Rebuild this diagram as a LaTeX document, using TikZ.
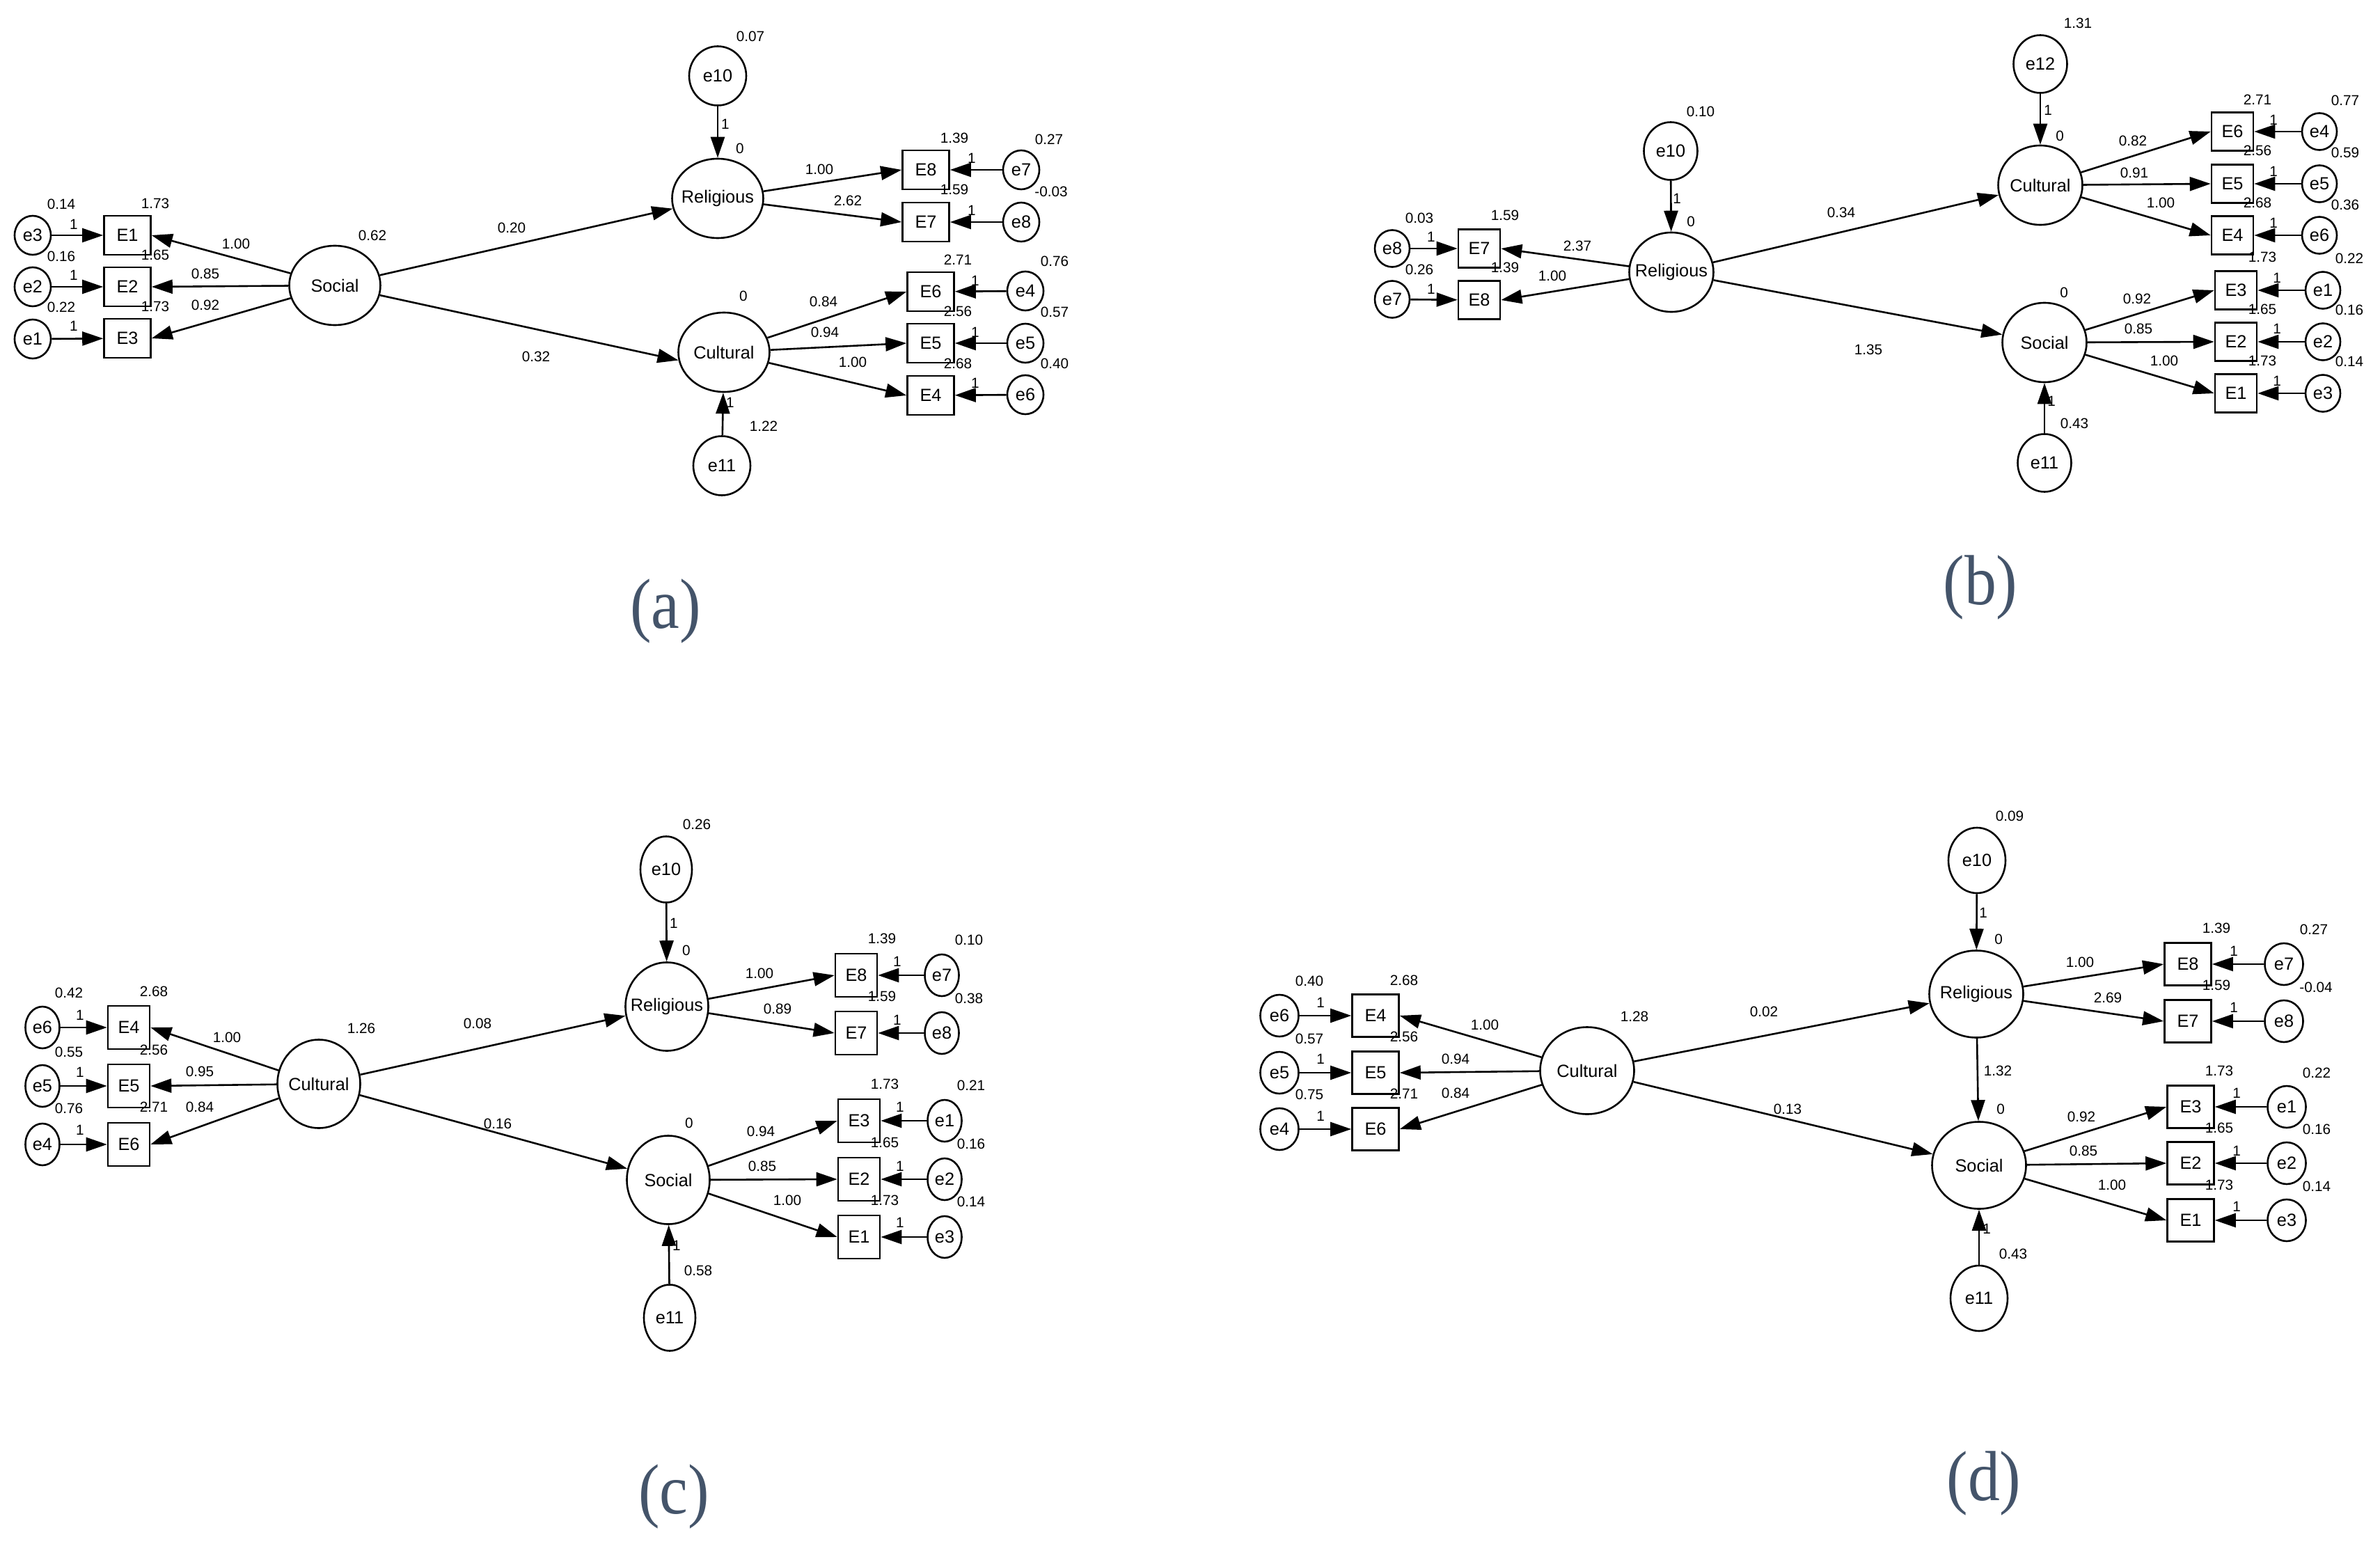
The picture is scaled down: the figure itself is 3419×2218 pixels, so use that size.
\documentclass[tikz,border=0pt]{standalone}
\usepackage{fontspec}
\setmainfont{Liberation Sans}
\newfontfamily\capfont{Liberation Serif}
\usetikzlibrary{shapes.geometric,arrows.meta}
\definecolor{capblue}{HTML}{44546A}
\tikzstyle{latent}=[ellipse,draw,line width=0.26mm,minimum width=13.1mm,minimum height=11.4mm,inner xsep=-1.5mm,inner ysep=0pt,font=\fontsize{7.2}{8}\selectfont]
\tikzstyle{errbig}=[ellipse,draw,line width=0.26mm,minimum width=8.2mm,minimum height=8.5mm,inner sep=0pt,font=\fontsize{7.2}{8}\selectfont]
\tikzstyle{err}=[ellipse,draw,line width=0.26mm,minimum width=5.2mm,minimum height=5.6mm,inner sep=0pt,font=\fontsize{7.2}{8}\selectfont]
\tikzstyle{obs}=[rectangle,draw,line width=0.26mm,minimum width=6.7mm,minimum height=5.6mm,inner sep=0pt,font=\fontsize{7.2}{8}\selectfont]
\tikzstyle{lbl}=[inner sep=0pt,font=\fontsize{5.9}{7}\selectfont]
\tikzstyle{panelcap}=[inner sep=0pt,text=capblue,font=\capfont\fontsize{29}{32}\selectfont]
\tikzstyle{arr}=[-{Triangle[length=3mm,width=2mm]},line width=0.26mm]

\begin{document}
\begin{tikzpicture}[x=0.1mm,y=-0.1mm]
    \useasboundingbox (0,0) rectangle (3419,2218);

    % (a)
    \node[err] (ae3) at (47,338) {e3};
    \node[err] (ae2) at (47,412) {e2};
    \node[err] (ae1) at (47,487) {e1};
    \node[obs] (aE1) at (183,338) {E1};
    \node[obs] (aE2) at (183,412) {E2};
    \node[obs] (aE3) at (183,486) {E3};
    \node[latent] (aSoc) at (481,410) {Social};
    \node[latent] (aRel) at (1031,285) {Religious};
    \node[latent] (aCul) at (1040,506) {Cultural};
    \node[errbig] (ae10) at (1031,109) {e10};
    \node[errbig] (ae11) at (1037,669) {e11};
    \node[obs] (aE8) at (1330,244) {E8};
    \node[obs] (aE7) at (1330,319) {E7};
    \node[err] (ae7) at (1467,244) {e7};
    \node[err] (ae8) at (1467,319) {e8};
    \node[obs] (aE6) at (1337,419) {E6};
    \node[obs] (aE5) at (1337,493) {E5};
    \node[obs] (aE4) at (1337,568) {E4};
    \node[err] (ae4) at (1473,418) {e4};
    \node[err] (ae5) at (1473,493) {e5};
    \node[err] (ae6) at (1473,567) {e6};

    \foreach \from/\to in {ae3/aE1,ae2/aE2,ae1/aE3,aSoc/aE1.east,aSoc/aE2.east,aSoc/aE3.east,
        aSoc/aRel,aSoc/aCul.190,ae10/aRel,ae11/aCul,aRel/aE8.west,aRel/aE7.west,
        aCul/aE6.west,aCul/aE5.west,aCul/aE4.west,ae7/aE8,ae8/aE7,ae4/aE6,ae5/aE5,ae6/aE4}
    \draw[arr] (\from) -- (\to);

    \foreach \x/\y/\lab [count=\i] in {88/293/0.14,106/322/1,223/292/1.73,88/368/0.16,106/395/1,223/366/1.65,
        88/441/0.22,106/468/1,223/440/1.73,339/350/1.00,295/393/0.85,295/438/0.92,535/338/0.62,
        735/327/0.20,770/512/0.32,1078/52/0.07,1042/178/1,1063/213/0,1177/243/1.00,1218/288/2.62,
        1371/198/1.39,1371/272/1.59,1396/227/1,1396/302/1,1507/200/0.27,1510/275/-0.03,
        1068/425/0,1183/433/0.84,1185/477/0.94,1225/520/1.00,1376/373/2.71,1376/447/2.56,1376/522/2.68,
        1401/403/1,1401/477/1,1401/550/1,1515/375/0.76,1515/448/0.57,1515/522/0.40,1049/578/1,1097/612/1.22}
    \node[lbl] (al\i) at (\x,\y) {\lab};
    \node[panelcap] (acap) at (956,878) {\scalebox{0.9}[1]{(a)}};

    % (b)
    \begin{scope}[latent/.append style={minimum width=12.1mm,minimum height=11.4mm},
        errbig/.append style={minimum width=7.7mm,minimum height=8.3mm},
        err/.append style={minimum width=5mm,minimum height=5.3mm},
        obs/.append style={minimum width=6mm,minimum height=5.5mm}]
    \node[err] (be8) at (2000,357) {e8};
    \node[err] (be7) at (2000,430) {e7};
    \node[obs] (bE7) at (2125,357) {E7};
    \node[obs] (bE8) at (2125,431) {E8};
    \node[latent] (bRel) at (2401,391) {Religious};
    \node[errbig] (be10) at (2400,217) {e10};
    \node[latent] (bCul) at (2931,266) {Cultural};
    \node[errbig] (be12) at (2931,92) {e12};
    \node[latent] (bSoc) at (2937,492) {Social};
    \node[errbig] (be11) at (2937,665) {e11};
    \node[obs] (bE6) at (3207,189) {E6};
    \node[obs] (bE5) at (3207,264) {E5};
    \node[obs] (bE4) at (3207,338) {E4};
    \node[err] (be4) at (3332,189) {e4};
    \node[err] (be5) at (3332,264) {e5};
    \node[err] (be6) at (3332,338) {e6};
    \node[obs] (bE3) at (3212,417) {E3};
    \node[obs] (bE2) at (3212,491) {E2};
    \node[obs] (bE1) at (3212,565) {E1};
    \node[err] (be1) at (3337,417) {e1};
    \node[err] (be2) at (3337,491) {e2};
    \node[err] (be3) at (3337,565) {e3};
    \end{scope}

    \foreach \from/\to in {be8/bE7,be7/bE8,bRel/bE7.east,bRel/bE8.east,be10/bRel,bRel/bCul,bRel/bSoc,
        be12/bCul,be11/bSoc,bCul/bE6.west,bCul/bE5.west,bCul/bE4.west,bSoc/bE3.west,bSoc/bE2.west,
        bSoc/bE1.west,be4/bE6,be5/bE5,be6/bE4,be1/bE3,be2/bE2,be3/bE1}
    \draw[arr] (\from) -- (\to);

    \foreach \x/\y/\lab [count=\i] in {2039/313/0.03,2056/340/1,2162/309/1.59,2039/387/0.26,2056/415/1,2162/384/1.39,
        2266/353/2.37,2230/396/1.00,2443/160/0.10,2409/285/1,2429/318/0,2645/305/0.34,2684/502/1.35,
        2985/33/1.31,2942/158/1,2959/195/0,3064/202/0.82,3066/248/0.91,3104/291/1.00,
        3243/143/2.71,3243/216/2.56,3243/291/2.68,3266/172/1,3266/246/1,3266/320/1,
        3369/144/0.77,3369/219/0.59,3369/294/0.36,2965/420/0,2947/576/1,2980/608/0.43,
        3070/429/0.92,3072/472/0.85,3109/518/1.00,3250/369/1.73,3250/444/1.65,3250/518/1.73,
        3271/399/1,3271/472/1,3271/547/1,3375/371/0.22,3375/445/0.16,3375/519/0.14}
    \node[lbl] (bl\i) at (\x,\y) {\lab};
    \node[panelcap] (bcap) at (2845,844) {\scalebox{0.9}[1]{(b)}};

    % (c)
    \begin{scope}[latent/.append style={minimum width=11.9mm,minimum height=12.7mm},
        errbig/.append style={minimum width=7.4mm,minimum height=9.5mm},
        err/.append style={minimum width=4.9mm,minimum height=6mm},
        obs/.append style={minimum width=6mm,minimum height=6.2mm}]
    \node[err] (ce6) at (61,1476) {e6};
    \node[err] (ce5) at (61,1560) {e5};
    \node[err] (ce4) at (61,1644) {e4};
    \node[obs] (cE4) at (185,1476) {E4};
    \node[obs] (cE5) at (185,1560) {E5};
    \node[obs] (cE6) at (185,1644) {E6};
    \node[latent] (cCul) at (458,1557) {Cultural};
    \node[latent] (cRel) at (958,1446) {Religious};
    \node[errbig] (ce10) at (957,1249) {e10};
    \node[latent] (cSoc) at (960,1695) {Social};
    \node[errbig] (ce11) at (962,1893) {e11};
    \node[obs] (cE8) at (1230,1401) {E8};
    \node[obs] (cE7) at (1230,1484) {E7};
    \node[err] (ce7) at (1353,1401) {e7};
    \node[err] (ce8) at (1353,1484) {e8};
    \node[obs] (cE3) at (1234,1610) {E3};
    \node[obs] (cE2) at (1234,1694) {E2};
    \node[obs] (cE1) at (1234,1777) {E1};
    \node[err] (ce1) at (1357,1610) {e1};
    \node[err] (ce2) at (1357,1694) {e2};
    \node[err] (ce3) at (1357,1777) {e3};
    \end{scope}

    \foreach \from/\to in {ce6/cE4,ce5/cE5,ce4/cE6,cCul/cE4.east,cCul/cE5.east,cCul/cE6.east,
        cCul/cRel,cCul/cSoc,ce10/cRel,ce11/cSoc,cRel/cE8.west,cRel/cE7.west,
        cSoc/cE3.west,cSoc/cE2.west,cSoc/cE1.west,ce7/cE8,ce8/cE7,ce1/cE3,ce2/cE2,ce3/cE1}
    \draw[arr] (\from) -- (\to);

    \foreach \x/\y/\lab [count=\i] in {99/1426/0.42,115/1458/1,221/1424/2.68,99/1511/0.55,115/1540/1,221/1508/2.56,
        99/1592/0.76,115/1623/1,221/1590/2.71,326/1490/1.00,287/1539/0.95,287/1590/0.84,
        519/1477/1.26,686/1470/0.08,715/1614/0.16,1001/1184/0.26,968/1326/1,986/1365/0,
        1091/1398/1.00,1117/1449/0.89,1267/1348/1.39,1267/1431/1.59,1289/1381/1,1289/1465/1,
        1392/1350/0.10,1392/1434/0.38,990/1613/0,1093/1625/0.94,1095/1675/0.85,1131/1724/1.00,
        1271/1557/1.73,1271/1641/1.65,1271/1724/1.73,1293/1590/1,1293/1675/1,1293/1756/1,
        1395/1559/0.21,1395/1643/0.16,1395/1726/0.14,972/1789/1,1003/1825/0.58}
    \node[lbl] (cl\i) at (\x,\y) {\lab};
    \node[panelcap] (ccap) at (968,2150) {\scalebox{0.9}[1]{(c)}};

    % (d)
    \begin{scope}[latent/.append style={minimum width=13.5mm,minimum height=12.5mm},
        errbig/.append style={minimum width=8.2mm,minimum height=9.4mm},
        err/.append style={minimum width=5.5mm,minimum height=6mm},
        obs/.append style={minimum width=6.7mm,minimum height=6.1mm}]
    \node[err] (de6) at (1838,1459) {e6};
    \node[err] (de5) at (1838,1541) {e5};
    \node[err] (de4) at (1838,1622) {e4};
    \node[obs] (dE4) at (1976,1459) {E4};
    \node[obs] (dE5) at (1976,1541) {E5};
    \node[obs] (dE6) at (1976,1622) {E6};
    \node[latent] (dCul) at (2280,1538) {Cultural};
    \node[latent] (dRel) at (2839,1428) {Religious};
    \node[errbig] (de10) at (2840,1236) {e10};
    \node[latent] (dSoc) at (2843,1674) {Social};
    \node[errbig] (de11) at (2843,1865) {e11};
    \node[obs] (dE8) at (3143,1385) {E8};
    \node[obs] (dE7) at (3143,1467) {E7};
    \node[err] (de7) at (3281,1385) {e7};
    \node[err] (de8) at (3281,1467) {e8};
    \node[obs] (dE3) at (3147,1590) {E3};
    \node[obs] (dE2) at (3147,1671) {E2};
    \node[obs] (dE1) at (3147,1753) {E1};
    \node[err] (de1) at (3285,1590) {e1};
    \node[err] (de2) at (3285,1671) {e2};
    \node[err] (de3) at (3285,1753) {e3};
    \end{scope}

    \foreach \from/\to in {de6/dE4,de5/dE5,de4/dE6,dCul/dE4.east,dCul/dE5.east,dCul/dE6.east,
        dCul/dRel,dCul/dSoc,dRel/dSoc,de10/dRel,de11/dSoc,dRel/dE8.west,dRel/dE7.west,
        dSoc/dE3.west,dSoc/dE2.west,dSoc/dE1.west,de7/dE8,de8/dE7,de1/dE3,de2/dE2,de3/dE1}
    \draw[arr] (\from) -- (\to);

    \foreach \x/\y/\lab [count=\i] in {1881/1409/0.40,1897/1440/1,2017/1408/2.68,1881/1492/0.57,1897/1521/1,2017/1489/2.56,
        1881/1572/0.75,1897/1603/1,2017/1571/2.71,2133/1472/1.00,2091/1521/0.94,2091/1570/0.84,
        2348/1460/1.28,2534/1453/0.02,2568/1593/0.13,2887/1172/0.09,2849/1311/1,2871/1349/0,
        2988/1382/1.00,3028/1433/2.69,3184/1333/1.39,3184/1415/1.59,3209/1366/1,3209/1447/1,
        3324/1335/0.27,3327/1418/-0.04,2870/1538/1.32,2874/1593/0,2990/1604/0.92,2993/1653/0.85,
        3034/1702/1.00,3188/1538/1.73,3188/1620/1.65,3188/1702/1.73,3213/1570/1,3213/1653/1,
        3213/1733/1,3328/1541/0.22,3328/1622/0.16,3328/1704/0.14,2854/1765/1,2892/1801/0.43}
    \node[lbl] (dl\i) at (\x,\y) {\lab};
    \node[panelcap] (dcap) at (2850,2131) {\scalebox{0.9}[1]{(d)}};
\end{tikzpicture}
\end{document}
